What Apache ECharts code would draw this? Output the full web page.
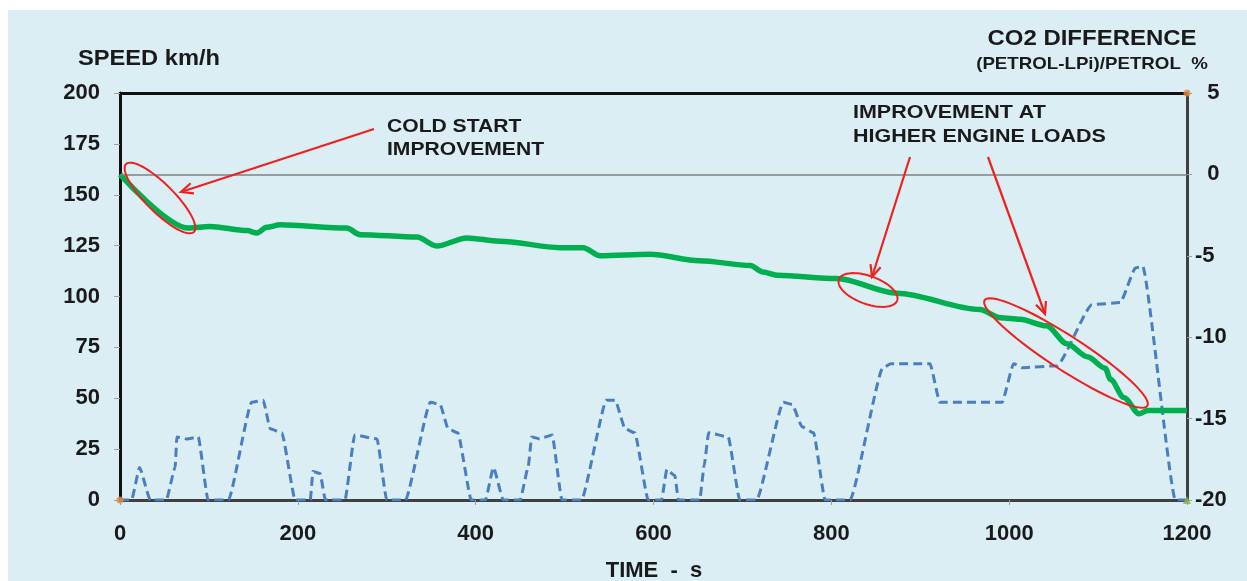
<!DOCTYPE html>
<html>
<head>
<meta charset="utf-8">
<script src="https://cdn.jsdelivr.net/npm/echarts@6/dist/echarts.min.js"></script>
<style>
html,body{margin:0;padding:0;background:#ffffff;}
#bg{position:absolute;left:8px;top:10px;width:1239px;height:571px;background:#DAEEF3;}
#chart{position:absolute;left:0;top:0;width:1247px;height:581px;}
</style>
</head>
<body>
<div id="bg"></div>
<div id="chart"></div>
<script>
// ---- data ----
const speedTime = [0,13,22,34,52,62,64,75,88,99,122,148,161,169,182,197,214,217,225,231,253,264,289,300,321,349,360,369,380,395,411,420,431,450,459,463,472,486,497,519,547,557,568,579,594,609,615,624,628,652,657,662,684,697,716,746,756,767,780,793,821,858,867,911,922,992,1005,1015,1054,1093,1125,1142,1150,1187,1200];
const speedKmh  = [0,0,16,0,0,16,31,30,31,0,0,48,49,35,33,0,0,14,13,0,0,32,30,0,0,48,47,35,33,0,0,16,0,0,16,31,30,32,0,0,49,49,35,33,0,0,15,12,0,0,17,33,31,0,0,48,47,36,33,0,0,65,67,67,48,48,67,65,66,96,97,114,115,0,0];
const co2Time = [0,77,101,143,154,165,180,255,270,334,356,390,427,495,521,540,596,652,709,723,739,806,874,967,990,1012,1042,1065,1088,1108,1114,1129,1146,1156,1200];
const co2Diff = [0,-3.3,-3.2,-3.45,-3.6,-3.25,-3.1,-3.3,-3.7,-3.85,-4.4,-3.9,-4.1,-4.5,-4.5,-5.0,-4.9,-5.3,-5.6,-6.0,-6.2,-6.4,-7.3,-8.3,-8.8,-8.9,-9.3,-10.4,-11.2,-11.9,-12.6,-13.7,-14.7,-14.5,-14.5];
const timeTicks = [0,200,400,600,800,1000,1200];
const speedTicks = [0,25,50,75,100,125,150,175,200];
const co2Ticks = [-20,-15,-10,-5,0,5];

const FONT = "'Liberation Sans', Arial, sans-serif";
const TXT = '#1a1a1a';

const chart = echarts.init(document.getElementById('chart'), null, {renderer:'canvas'});

function pairs(xs, ys){ return xs.map((x,i)=>[x, ys[i]]); }

const option = {
  backgroundColor: 'transparent',
  animation: false,
  grid: {left:120, right:60, top:93, bottom:81, containLabel:false},
  xAxis: [{
    type:'value', min:timeTicks[0], max:timeTicks[timeTicks.length-1], interval:200,
    axisLine:{show:true, onZero:false, lineStyle:{color:'#404040', width:3}},
    axisTick:{show:true, length:5, lineStyle:{color:'#a0a0a0', width:1}},
    axisLabel:{fontFamily:FONT, fontWeight:'bold', fontSize:22, color:TXT, margin:23,
      formatter: v => String(v)},
    splitLine:{show:false}
  },{
    type:'value', position:'top', min:0, max:1200,
    axisLine:{show:true, onZero:false, lineStyle:{color:'#111', width:3}},
    axisTick:{show:false}, axisLabel:{show:false}, splitLine:{show:false}
  }],
  yAxis: [{
    type:'value', min:speedTicks[0], max:speedTicks[speedTicks.length-1], interval:25,
    axisLine:{show:true, onZero:false, lineStyle:{color:'#111', width:3}},
    axisTick:{show:true, length:6, lineStyle:{color:'#a0a0a0', width:1}},
    axisLabel:{fontFamily:FONT, fontWeight:'bold', fontSize:22, color:TXT, margin:20},
    splitLine:{show:false}
  },{
    type:'value', position:'right', min:co2Ticks[0], max:co2Ticks[co2Ticks.length-1], interval:5,
    axisLine:{show:true, onZero:false, lineStyle:{color:'#404040', width:3}},
    axisTick:{show:true, length:5, lineStyle:{color:'#a0a0a0', width:1}},
    axisLabel:{fontFamily:FONT, fontWeight:'bold', fontSize:22, color:TXT, margin:8,
      formatter: v => (v >= 0 ? '  ' + v : String(v))},
    splitLine:{show:false}
  }],
  series: [{
    name:'speed', type:'line', xAxisIndex:0, yAxisIndex:0,
    data: pairs(speedTime, speedKmh),
    showSymbol:false, smooth:0.15, smoothMonotone:'x',
    lineStyle:{color:'#4A7EC1', width:3, type:[9,5]},
    z:3
  },{
    name:'co2', type:'line', xAxisIndex:0, yAxisIndex:1,
    data: pairs(co2Time, co2Diff),
    showSymbol:false, smooth:0.3, smoothMonotone:'x',
    lineStyle:{color:'#00B050', width:5.5},
    markLine:{silent:true, symbol:'none', label:{show:false},
      lineStyle:{color:'#808080', width:1.5, type:'solid'},
      data:[{yAxis:0}]},
    z:4
  },{
    name:'corners', type:'scatter', xAxisIndex:0, yAxisIndex:1,
    data:[[0,-20],[1200,5]], symbol:'circle', symbolSize:7,
    itemStyle:{color:'#E88A3C'}, z:6
  },{
    name:'corners2', type:'scatter', xAxisIndex:0, yAxisIndex:1,
    data:[[1200,-20]], symbol:'triangle', symbolSize:8,
    itemStyle:{color:'#8DB040'}, z:6
  }]
};
chart.setOption(option);

// ---- annotations ----
function ellipse(cx, cy, a, b, deg){
  const th = deg*Math.PI/180, pts=[];
  for(let i=0;i<72;i++){
    const f = i/72*2*Math.PI;
    const ex = a*Math.cos(f), ey = b*Math.sin(f);
    pts.push([cx + ex*Math.cos(th) - ey*Math.sin(th), cy + ex*Math.sin(th) + ey*Math.cos(th)]);
  }
  return {type:'polygon', shape:{points:pts}, style:{fill:'none', stroke:'#F02020', lineWidth:2}, z:100};
}
function arrow(x1,y1,x2,y2){
  const ang = Math.atan2(y2-y1, x2-x1), L=13, w=0.42;
  const p1=[x2 - L*Math.cos(ang-w), y2 - L*Math.sin(ang-w)];
  const p2=[x2 - L*Math.cos(ang+w), y2 - L*Math.sin(ang+w)];
  return [
    {type:'line', shape:{x1:x1,y1:y1,x2:x2,y2:y2}, style:{stroke:'#F02020', lineWidth:2.2}, z:100},
    {type:'polyline', shape:{points:[p1,[x2,y2],p2]}, style:{stroke:'#F02020', lineWidth:2.2, fill:'none'}, z:100}
  ];
}
function txt(x, y, s, size, align, sx){
  return {type:'text', x:x, y:y, scaleX:sx||1, z:100,
    style:{text:s, fontFamily:FONT, fontWeight:'bold', fontSize:size, fill:TXT, align:align||'left', verticalAlign:'middle'}};
}
const g = [];
g.push(txt(78, 59, 'SPEED km/h', 22, 'left', 1.075));
g.push(txt(1092, 39, 'CO2 DIFFERENCE', 22, 'center', 1.09));
g.push(txt(1092, 64, '(PETROL-LPi)/PETROL  %', 17, 'center', 1.1));
g.push(txt(387, 127, 'COLD START', 19, 'left', 1.11));
g.push(txt(387, 150, 'IMPROVEMENT', 19, 'left', 1.11));
g.push(txt(853, 113, 'IMPROVEMENT AT', 19, 'left', 1.13));
g.push(txt(853, 137, 'HIGHER ENGINE LOADS', 19, 'left', 1.13));
g.push(txt(654, 571, 'TIME  -  s', 22, 'center'));
g.push(ellipse(160, 198, 48, 14, 45));
g.push(ellipse(868, 290, 31, 14, 20));
g.push(ellipse(1066, 353, 97, 17, 33));
g.push(...arrow(374, 129, 181, 192));
g.push(...arrow(910, 157, 872, 277));
g.push(...arrow(988, 157, 1045, 314));
chart.setOption({graphic:{elements:g}});
</script>
</body>
</html>
